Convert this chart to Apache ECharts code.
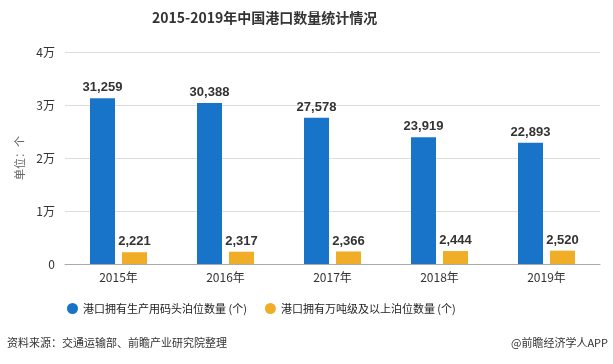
<!DOCTYPE html>
<html><head><meta charset="utf-8">
<script src="https://cdn.jsdelivr.net/npm/echarts@6/dist/echarts.min.js"></script>
<style>html,body{margin:0;padding:0;background:#fff}#c{width:613px;height:364px}</style>
</head><body><div id="c"></div>
<script>
const categories = ['2015年','2016年','2017年','2018年','2019年'];
const berthsAll = [31259, 30388, 27578, 23919, 22893];
const berthsLarge = [2221, 2317, 2366, 2444, 2520];
const seriesNames = ['港口拥有生产用码头泊位数量 (个)','港口拥有万吨级及以上泊位数量 (个)'];
const yTicks = {0:'0',10000:'1万',20000:'2万',30000:'3万',40000:'4万'};
const font = '"Microsoft YaHei","Noto Sans CJK SC",sans-serif';
const chart = echarts.init(document.getElementById('c'));
const lbl = {show:true, position:'top', distance:4, fontSize:13, fontWeight:'bold', color:'#333', fontFamily:'Arial, "Liberation Sans", sans-serif',
  formatter: p => p.value.toLocaleString('en-US')};
chart.setOption({
  animation:false,
  textStyle:{fontFamily:font},
  title:{text:'2015-2019年中国港口数量统计情况', left:147, top:6,
    textStyle:{fontSize:14, fontWeight:'bold', color:'#333', fontFamily:font}},
  grid:{left:65, right:13, top:52, bottom:100},
  legend:{bottom:45, left:62, itemGap:18, icon:'circle', itemWidth:11, itemHeight:11,
    textStyle:{fontSize:11, color:'#222', fontFamily:font}},
  xAxis:{type:'category', data:categories,
    axisLine:{lineStyle:{color:'#aaa'}}, axisTick:{alignWithLabel:true, length:4, lineStyle:{color:'#aaa'}},
    axisLabel:{color:'#333', fontSize:12, margin:7}},
  yAxis:{type:'value', min:0, max:40000, interval:10000,
    name:'单位：个', nameLocation:'middle', nameGap:38, nameRotate:90,
    nameTextStyle:{color:'#666', fontSize:11},
    axisLine:{show:false}, axisTick:{show:false},
    axisLabel:{color:'#333', fontSize:12, margin:10, formatter:v=>yTicks[v]},
    splitLine:{lineStyle:{color:'#ddd'}}},
  series:[
    {name:seriesNames[0], type:'bar', data:berthsAll, barWidth:25, barGap:'28%', itemStyle:{color:'#1874C8'}, label:lbl},
    {name:seriesNames[1], type:'bar', data:berthsLarge, barWidth:25, barGap:'28%', itemStyle:{color:'#F0AE28'}, label:lbl}
  ],
  graphic:[
    {type:'text', left:7, top:337, style:{text:'资料来源：交通运输部、前瞻产业研究院整理', fill:'#333', font:'11px '+font}},
    {type:'text', right:5, top:337, style:{text:'@前瞻经济学人APP', fill:'#333', font:'11px '+font}}
  ]
});
</script></body></html>
